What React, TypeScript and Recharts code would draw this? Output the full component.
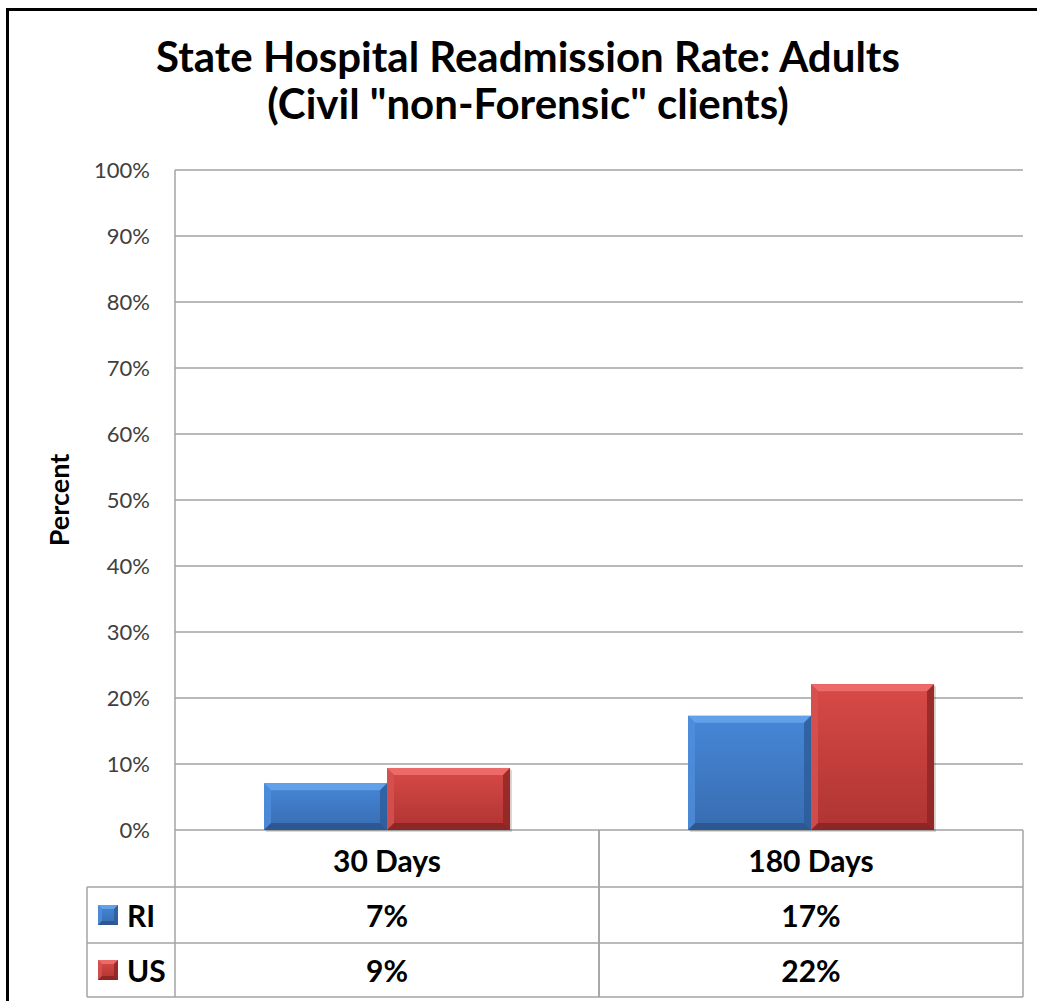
import { BarChart, Bar, XAxis, YAxis, CartesianGrid } from "recharts";

// Chart data
const categories = ["30 Days", "180 Days"];
const seriesNames = ["RI", "US"];
const riValues = [7.1, 17.3];
const usValues = [9.4, 22.1];
const yTicks = [0, 10, 20, 30, 40, 50, 60, 70, 80, 90, 100];

const data = categories.map((c, i) => ({ name: c, RI: riValues[i], US: usValues[i] }));
const seriesValues: Record<string, number[]> = { RI: riValues, US: usValues };

const W = 1037;
const H = 1001;
const PLOT_LEFT = 175;
const PLOT_RIGHT = 1023;
const PLOT_TOP = 170;
const PLOT_BOTTOM = 830;
const Y_AXIS_W = 120;
const X_AXIS_H = H - PLOT_BOTTOM;

const ROW_H = [57, 56, 54]; // category row, RI row, US row
const LEGEND_LEFT = 87;
const LINE = "#a3a3a3";
const FONT = "Lato, 'Open Sans', sans-serif";

type Palette = {
  id: string;
  top: string;
  bottom: string;
  bevelTop: string;
  bevelLeft: string;
  bevelRight: string;
  bevelBottom: string;
};

const BLUE: Palette = {
  id: "blue",
  top: "#4687d8",
  bottom: "#386cb0",
  bevelTop: "#63a0ea",
  bevelLeft: "#4f8edd",
  bevelRight: "#2d5b97",
  bevelBottom: "#2b548c",
};

const RED: Palette = {
  id: "red",
  top: "#d84a47",
  bottom: "#ae3432",
  bevelTop: "#ec6a67",
  bevelLeft: "#d65350",
  bevelRight: "#8c2523",
  bevelBottom: "#862523",
};

const palettes: Record<string, Palette> = { RI: BLUE, US: RED };

function Bevel({ x, y, width, height, p, size = 7, shadow = true }: any) {
  if (!width || !height || height <= 0) return null;
  const b = Math.min(size, width / 2, height / 2);
  const x2 = x + width;
  const y2 = y + height;
  return (
    <g>
      <defs>
        <linearGradient id={`grad-${p.id}`} x1="0" y1="0" x2="0" y2="1">
          <stop offset="0%" stopColor={p.top} />
          <stop offset="100%" stopColor={p.bottom} />
        </linearGradient>
      </defs>
      {shadow && (
        <rect x={x + 2} y={y + 2} width={width} height={height} fill="#000" opacity={0.15} />
      )}
      <rect x={x} y={y} width={width} height={height} fill={`url(#grad-${p.id})`} />
      <polygon points={`${x},${y} ${x2},${y} ${x2 - b},${y + b} ${x + b},${y + b}`} fill={p.bevelTop} />
      <polygon points={`${x},${y} ${x + b},${y + b} ${x + b},${y2 - b} ${x},${y2}`} fill={p.bevelLeft} opacity={0.8} />
      <polygon points={`${x2},${y} ${x2 - b},${y + b} ${x2 - b},${y2 - b} ${x2},${y2}`} fill={p.bevelRight} opacity={0.8} />
      <polygon points={`${x},${y2} ${x + b},${y2 - b} ${x2 - b},${y2 - b} ${x2},${y2}`} fill={p.bevelBottom} opacity={0.85} />
    </g>
  );
}

function PercentLabel() {
  const cx = 58;
  const cy = (PLOT_TOP + PLOT_BOTTOM) / 2;
  return (
    <text
      x={cx}
      y={cy}
      transform={`rotate(-90 ${cx} ${cy})`}
      textAnchor="middle"
      dominantBaseline="central"
      fontFamily={FONT}
      fontWeight={700}
      fontSize={27}
      fill="#000"
    >
      Percent
    </text>
  );
}

// Each x tick draws its column of the data table under the plot
function TableColumn(props: any) {
  const { x, y, payload, index } = props;
  const half = payload?.offset || (PLOT_RIGHT - PLOT_LEFT) / categories.length / 2;
  const left = x - half;
  const right = x + half;
  const r1 = y + ROW_H[0];
  const r2 = r1 + ROW_H[1];
  const r3 = r2 + ROW_H[2];
  const textProps = {
    fontFamily: FONT,
    fontWeight: 700,
    fontSize: 30,
    fill: "#000",
    textAnchor: "middle" as const,
    dominantBaseline: "central" as const,
  };
  return (
    <g>
      <line x1={left} y1={y} x2={left} y2={r3} stroke={LINE} strokeWidth={1.5} />
      <line x1={right} y1={y} x2={right} y2={r3} stroke={LINE} strokeWidth={1.5} />
      <line x1={left} y1={r1} x2={right} y2={r1} stroke={LINE} strokeWidth={1.5} />
      <line x1={left} y1={r2} x2={right} y2={r2} stroke={LINE} strokeWidth={1.5} />
      <line x1={left} y1={r3} x2={right} y2={r3} stroke={LINE} strokeWidth={1.5} />
      <text x={x} y={y + ROW_H[0] / 2 + 1} {...textProps}>
        {payload.value}
      </text>
      {seriesNames.map((s, i) => (
        <text key={s} x={x} y={(i === 0 ? r1 : r2) + ROW_H[i + 1] / 2} {...textProps}>
          {`${Math.round(seriesValues[s][index])}%`}
        </text>
      ))}
      {index === 0 && (
        <g>
          <line x1={LEGEND_LEFT} y1={r1} x2={LEGEND_LEFT} y2={r3} stroke={LINE} strokeWidth={1.5} />
          <line x1={LEGEND_LEFT} y1={r1} x2={left} y2={r1} stroke={LINE} strokeWidth={1.5} />
          <line x1={LEGEND_LEFT} y1={r2} x2={left} y2={r2} stroke={LINE} strokeWidth={1.5} />
          <line x1={LEGEND_LEFT} y1={r3} x2={left} y2={r3} stroke={LINE} strokeWidth={1.5} />
          {seriesNames.map((s, i) => {
            const cy = (i === 0 ? r1 : r2) + ROW_H[i + 1] / 2;
            return (
              <g key={s}>
                <Bevel x={LEGEND_LEFT + 11} y={cy - 10} width={20} height={20} p={palettes[s]} size={4} shadow={false} />
                <text {...textProps} x={LEGEND_LEFT + 40} y={cy} textAnchor="start">
                  {s}
                </text>
              </g>
            );
          })}
        </g>
      )}
    </g>
  );
}

export default function App() {
  return (
    <div
      style={{
        position: "fixed",
        left: 0,
        top: 0,
        width: W,
        height: H,
        overflow: "hidden",
        background: "#fff",
      }}
    >
      <div
        style={{
          position: "absolute",
          left: 6,
          top: 8,
          width: W + 50,
          height: H + 50,
          borderTop: "3px solid #000",
          borderLeft: "3px solid #000",
        }}
      />
      <div
        style={{
          position: "absolute",
          left: 528 - 500,
          top: 33,
          width: 1000,
          textAlign: "center",
          fontFamily: FONT,
          fontWeight: 700,
          fontSize: 42,
          lineHeight: "47px",
          color: "#000",
        }}
      >
        <div>State Hospital Readmission Rate: Adults</div>
        <div>(Civil "non-Forensic" clients)</div>
      </div>
      <div style={{ position: "absolute", left: 0, top: 0 }}>
        <BarChart
          width={W}
          height={H}
          data={data}
          margin={{
            top: PLOT_TOP,
            right: W - PLOT_RIGHT,
            bottom: H - PLOT_BOTTOM - X_AXIS_H,
            left: PLOT_LEFT - Y_AXIS_W,
          }}
          barCategoryGap="21%"
          barGap={0}
        >
          <CartesianGrid horizontal vertical={false} stroke={LINE} strokeWidth={1.5} />
          <XAxis
            dataKey="name"
            type="category"
            height={X_AXIS_H}
            axisLine={false}
            tickLine={false}
            tickSize={0}
            tickMargin={0}
            interval={0}
            tick={(p: any) => <TableColumn {...p} />}
          />
          <YAxis
            type="number"
            domain={[0, 100]}
            ticks={yTicks}
            width={Y_AXIS_W}
            axisLine={{ stroke: LINE, strokeWidth: 1.5 }}
            tickLine={false}
            tickSize={0}
            tickMargin={25}
            tick={{ fill: "#404040", fontSize: 22, fontFamily: FONT }}
            tickFormatter={(v: number) => `${v}%`}
            label={<PercentLabel />}
          />
          {seriesNames.map((s) => (
            <Bar
              key={s}
              dataKey={s}
              isAnimationActive={false}
              shape={(p: any) => <Bevel {...p} p={palettes[s]} />}
            />
          ))}
        </BarChart>
      </div>
    </div>
  );
}
